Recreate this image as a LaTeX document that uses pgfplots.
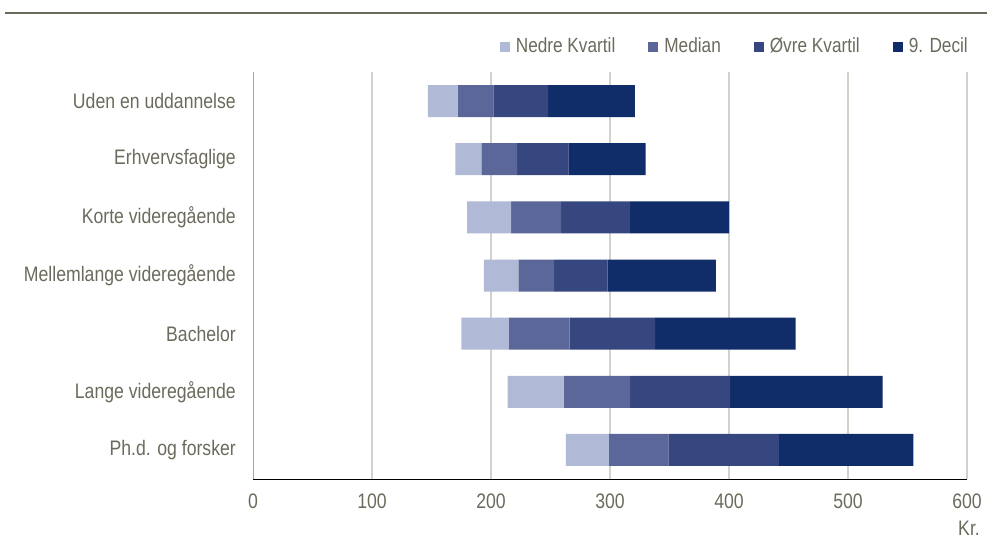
\documentclass[border=0pt]{standalone}
\usepackage{fontspec}
\setmainfont{Liberation Sans}[FakeStretch=0.84]
\usepackage{pgfplots}
\usepackage{pgfplotstable}
\pgfplotsset{compat=1.18}
\definecolor{txt}{RGB}{107,106,92}
\definecolor{gridc}{RGB}{210,209,202}
\definecolor{axc}{RGB}{170,168,158}
\definecolor{cA}{RGB}{176,185,214}
\definecolor{cB}{RGB}{90,103,152}
\definecolor{cC}{RGB}{54,70,126}
\definecolor{cD}{RGB}{17,45,105}
\pgfplotstableread{
y start nedre median ovre decil
0 147 25 30 46 73
1 170 22 30 43 65
2 180 37 42 58 83
3 194 29 30 45 91
4 175 40 51 72 118
5 214 47 56 84 128
6 263 36 50 93 113
}\data
\begin{document}
\fontsize{21pt}{25pt}\selectfont
\begin{tikzpicture}
\useasboundingbox (0,0) rectangle (987pt,541pt);
\draw[color=txt, line width=2pt] (5pt,527.5pt) -- (987pt,527.5pt);
\begin{axis}[
  at={(253pt,62pt)}, anchor=south west,
  scale only axis, width=714pt, height=407pt,
  xbar stacked, bar width=32pt,
  xmin=0, xmax=600, ymin=-0.5, ymax=6.5, y dir=reverse,
  xtick={0,100,...,600},
  extra x ticks={100,200,...,600}, extra x tick labels={},
  extra x tick style={grid=major, major tick length=0pt},
  major grid style={color=gridc, line width=1.3pt},
  ytick={0,...,6},
  yticklabels={Uden en uddannelse,Erhvervsfaglige,Korte videregående,Mellemlange videregående,Bachelor,Lange videregående,Ph.d. og forsker},
  axis x line=none,
  axis y line*=left,
  y axis line style={color=axc, line width=1pt, -},
  major tick length=0pt,
  every tick label/.append style={font=\fontsize{21pt}{25pt}\selectfont, text=txt, inner sep=0pt},
  yticklabel style={anchor=east, xshift=-17pt},
  xticklabel style={anchor=north, yshift=-15pt},
  xticklabel pos=lower,
  hide x axis=false,
  /pgf/number format/assume math mode=true,
  xlabel={Kr.},
  xlabel style={at={(axis description cs:1,0)}, anchor=east, xshift=13pt, yshift=-49pt, inner sep=0pt, text=txt, font=\fontsize{21pt}{25pt}\selectfont},
  legend columns=4,
  legend style={at={(axis description cs:1,1)}, anchor=east, yshift=25pt, xshift=1pt,
    draw=none, fill=none, inner sep=0pt,
    font=\fontsize{20.5pt}{25pt}\selectfont, text=txt,
    nodes={inner sep=0pt},
    /tikz/every odd column/.append style={column sep=6pt},
    /tikz/every even column/.append style={column sep=33pt}},
  legend image code/.code={\fill[#1, draw=none] (0pt,-5pt) rectangle (10pt,5pt);},
]
\addplot[draw=none, fill=none, forget plot] table[x=start, y=y] {\data};
\addplot[draw=none, fill=cA] table[x=nedre, y=y] {\data};
\addplot[draw=none, fill=cB] table[x=median, y=y] {\data};
\addplot[draw=none, fill=cC] table[x=ovre, y=y] {\data};
\addplot[draw=none, fill=cD] table[x=decil, y=y] {\data};
\legend{Nedre Kvartil, Median, Øvre Kvartil, 9. Decil}
\end{axis}
\end{tikzpicture}
\end{document}
